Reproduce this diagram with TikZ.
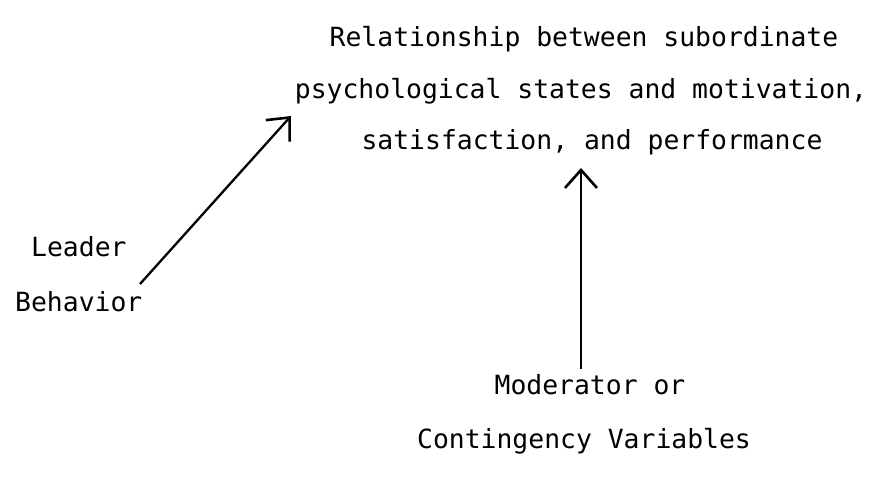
\documentclass[tikz,border=0pt]{standalone}
\usepackage{fontspec}
\setmonofont{DejaVu Sans Mono}
\usetikzlibrary{arrows.meta}
\begin{document}
\begin{tikzpicture}[x=1pt,y=-1pt,
  lbl/.style={font=\ttfamily\fontsize{26.4}{30}\selectfont, inner sep=0pt, anchor=base},
  lbll/.style={lbl, anchor=base west},
  conn/.style={line width=2.3pt, -{Straight Barb[length=18pt,width=32pt,line width=2.6pt]}}]
\useasboundingbox (0,0) rectangle (887,492);
\node[lbl] (r1) at (584,47) {Relationship between subordinate};
\node[lbl] (r2) at (581,99) {psychological states and motivation,};
\node[lbl] (r3) at (592,150) {satisfaction, and performance};
\node[lbll] (l1) at (31,256) {Leader};
\node[lbll] (l2) at (15,311) {Behavior};
\node[lbl] (m1) at (590,394) {Moderator or};
\node[lbl] (m2) at (584,448) {Contingency Variables};
\coordinate (a1s) at (140,284);
\coordinate (a1e) at (291,116);
\coordinate (a2s) at (581,369);
\coordinate (a2e) at (581,168);
\draw[conn] (a1s) -- (a1e);
\draw[conn] (a2s) -- (a2e);
\end{tikzpicture}
\end{document}
